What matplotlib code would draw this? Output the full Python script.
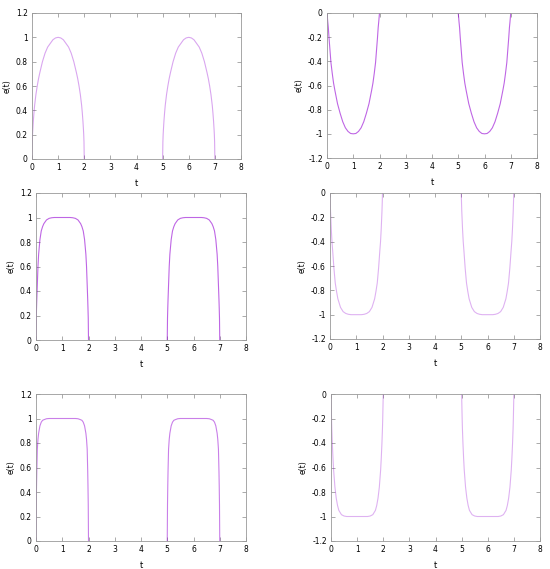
import matplotlib
matplotlib.use("Agg")
import matplotlib.pyplot as plt

# hump start times (same shape repeated on [0,2] and [5,7])
hump_starts = [0, 5]

# offsets within one hump
hump_t = [0, 0.01, 0.02, 0.03, 0.05, 0.075, 0.1, 0.15, 0.2, 0.25, 0.3, 0.4, 0.5, 0.6, 0.7, 0.8, 0.9, 1.0,
          1.1, 1.2, 1.3, 1.4, 1.5, 1.6, 1.7, 1.75, 1.8, 1.85, 1.9, 1.925, 1.95, 1.97, 1.98, 1.99, 2.0]

# top left: round hump
e_top_left = [0, 0.14, 0.2, 0.24, 0.31, 0.38, 0.44, 0.53, 0.6, 0.66, 0.71, 0.8, 0.87, 0.92, 0.95, 0.98, 0.995, 1.0,
              0.995, 0.98, 0.95, 0.92, 0.87, 0.8, 0.71, 0.66, 0.6, 0.53, 0.44, 0.38, 0.31, 0.24, 0.2, 0.14, 0]
# top right: negative, slightly flattened bottom
e_top_right = [0, -0.025, -0.05, -0.075, -0.12, -0.2, -0.27, -0.41, -0.5, -0.58, -0.64, -0.75, -0.83, -0.9, -0.95, -0.98, -0.997, -1.0,
               -0.997, -0.98, -0.95, -0.9, -0.83, -0.75, -0.64, -0.58, -0.5, -0.41, -0.27, -0.2, -0.12, -0.075, -0.05, -0.025, 0]
# middle left: flat top
e_mid_left = [0, 0.18, 0.26, 0.33, 0.45, 0.6, 0.7, 0.82, 0.89, 0.925, 0.95, 0.98, 0.993, 0.998, 1.0, 1.0, 1.0, 1.0,
              1.0, 1.0, 1.0, 0.998, 0.993, 0.98, 0.95, 0.925, 0.89, 0.82, 0.7, 0.6, 0.45, 0.33, 0.26, 0.18, 0]
# middle right: negative flat bottom
e_mid_right = [0, -0.08, -0.15, -0.2, -0.3, -0.4, -0.47, -0.62, -0.74, -0.81, -0.87, -0.94, -0.975, -0.99, -0.997, -1.0, -1.0, -1.0,
               -1.0, -1.0, -0.997, -0.99, -0.975, -0.94, -0.87, -0.81, -0.74, -0.62, -0.47, -0.4, -0.3, -0.2, -0.15, -0.08, 0]
# bottom left: sharper flat top
e_bot_left = [0, 0.3, 0.45, 0.57, 0.75, 0.83, 0.88, 0.94, 0.97, 0.985, 0.99, 0.998, 1.0, 1.0, 1.0, 1.0, 1.0, 1.0,
              1.0, 1.0, 1.0, 1.0, 1.0, 0.998, 0.99, 0.985, 0.97, 0.94, 0.88, 0.83, 0.75, 0.57, 0.45, 0.3, 0]
# bottom right: sharper negative flat bottom
e_bot_right = [0, -0.1, -0.2, -0.28, -0.4, -0.52, -0.62, -0.76, -0.85, -0.91, -0.95, -0.985, -0.996, -1.0, -1.0, -1.0, -1.0, -1.0,
               -1.0, -1.0, -1.0, -1.0, -0.996, -0.985, -0.95, -0.91, -0.85, -0.76, -0.62, -0.52, -0.4, -0.28, -0.2, -0.1, 0]

pos_ticks = [0, 0.2, 0.4, 0.6, 0.8, 1, 1.2]
neg_ticks = [-1.2, -1, -0.8, -0.6, -0.4, -0.2, 0]

panels = [
    # (values, [left, right, top, bottom] in px, ylim, yticks, alpha)
    (e_top_left, [32, 241, 13, 159], (0, 1.2), pos_ticks, 0.35),
    (e_top_right, [327, 537, 13, 158], (-1.2, 0), neg_ticks, 0.6),
    (e_mid_left, [36, 246, 193, 340], (0, 1.2), pos_ticks, 0.6),
    (e_mid_right, [330, 540, 193, 339], (-1.2, 0), neg_ticks, 0.3),
    (e_bot_left, [36, 246, 394, 541], (0, 1.2), pos_ticks, 0.5),
    (e_bot_right, [331, 540, 394, 541], (-1.2, 0), neg_ticks, 0.3),
]

W, H = 550, 569
fig = plt.figure(figsize=(W / 100, H / 100), dpi=100)

for vals, (l, r, t, b), ylim, yticks, alpha in panels:
    ax = fig.add_axes([l / W, (H - b) / H, (r - l) / W, (b - t) / H])
    for s in hump_starts:
        ax.plot([s + x for x in hump_t], vals, color="#9400d3", lw=0.8, alpha=alpha,
                solid_joinstyle="round")
    ax.set_xlim(0, 8)
    ax.set_ylim(*ylim)
    ax.set_xticks(range(0, 9))
    ax.set_yticks(yticks)
    ax.set_yticklabels([("%g" % v) for v in yticks])
    ax.tick_params(direction="in", length=3, width=0.5, color="#888888",
                   labelsize=5.5, top=True, right=True, pad=3)
    for sp in ax.spines.values():
        sp.set_color("#999999")
        sp.set_linewidth(0.6)
    ax.set_xlabel("t", fontsize=6, labelpad=5)
    ax.set_ylabel("e(t)", fontsize=5.5, labelpad=3)

fig.savefig("out.png", dpi=100)
